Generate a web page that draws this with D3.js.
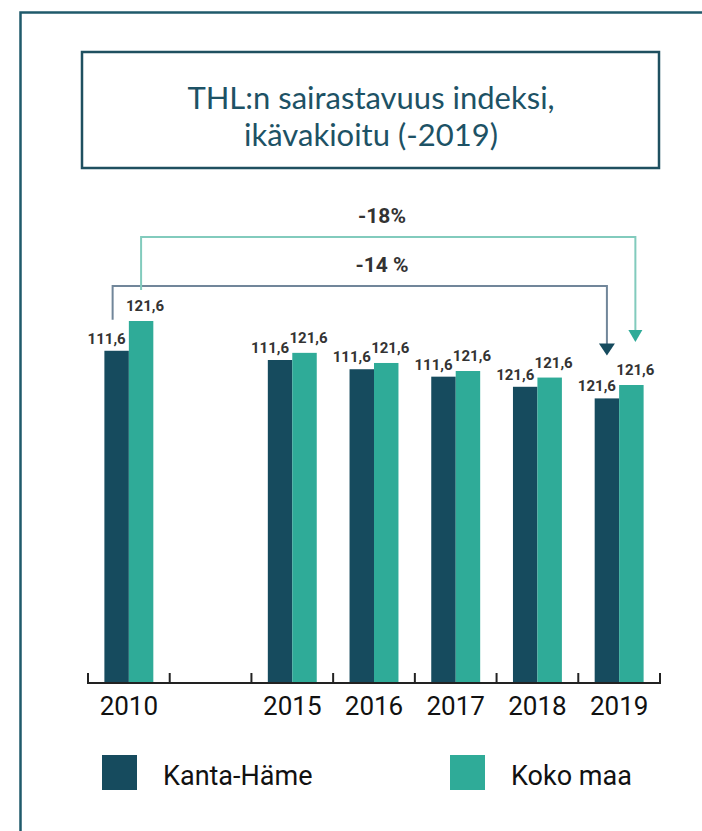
<!DOCTYPE html>
<html>
<head>
<meta charset="utf-8">
<script src="https://cdn.jsdelivr.net/npm/d3@7"></script>
<style>
  body { margin: 0; background: #fff; }
  svg { display: block; }
</style>
</head>
<body>
<svg width="702" height="831"></svg>
<script>
var svg = d3.select("svg"),
  width = +svg.attr("width"),
  height = +svg.attr("height");

// data
var years = ["2010", "", "2015", "2016", "2017", "2018", "2019"];
var series = ["Kanta-Häme", "Koko maa"];
var kantaHame = [111.6, null, 108.5, 105.4, 102.9, 99.5, 95.6];
var kokoMaa = [121.6, null, 110.9, 107.5, 104.8, 102.6, 100.1];
var kantaLabels = ["111,6", "", "111,6", "111,6", "111,6", "121,6", "121,6"];
var kokoLabels = ["121,6", "", "121,6", "121,6", "121,6", "121,6", "121,6"];
var changeLabels = ["-14 %", "-18%"];

var dark = "#164b5e",
  teal = "#2fab98",
  frame = "#1f5a6b";

// outer frame, runs off the right and bottom edge
svg.append("rect")
  .attr("x", 20.5).attr("y", 12.5)
  .attr("width", 900).attr("height", 900)
  .attr("fill", "none")
  .attr("stroke", frame)
  .attr("stroke-width", 2.5);

// title box
svg.append("rect")
  .attr("x", 82).attr("y", 52)
  .attr("width", 577).attr("height", 116)
  .attr("fill", "none")
  .attr("stroke", "#1f5060")
  .attr("stroke-width", 2.5);

var title = svg.append("text")
  .attr("font-family", "Lato, 'Open Sans', sans-serif")
  .attr("font-size", 31)
  .attr("fill", "#1d5265")
  .style("text-anchor", "middle");
title.append("tspan").attr("x", 371).attr("y", 109).text("THL:n sairastavuus indeksi,");
title.append("tspan").attr("x", 371).attr("y", 146).text("ikävakioitu (-2019)");

// scales
var x = d3.scaleBand().domain(years).range([88, 660]);
var x1 = d3.scaleBand().domain(series).range([0, x.bandwidth()]).paddingOuter(0.67);
var y = d3.scaleLinear().domain([0, 121.6]).range([683, 321]);

var rows = years.map(function (d, i) {
  return { year: d, values: [kantaHame[i], kokoMaa[i]], labels: [kantaLabels[i], kokoLabels[i]] };
}).filter(function (d) { return d.values[0] != null; });

var groups = svg.selectAll("g.year")
  .data(rows)
  .enter()
  .append("g")
  .attr("class", "year")
  .attr("transform", function (d) { return "translate(" + x(d.year) + ",0)"; });

groups.selectAll("rect")
  .data(function (d) { return d.values.map(function (v, i) { return { key: series[i], v: v }; }); })
  .enter()
  .append("rect")
  .attr("x", function (d) { return x1(d.key); })
  .attr("y", function (d) { return y(d.v); })
  .attr("width", x1.bandwidth())
  .attr("height", function (d) { return y(0) - y(d.v); })
  .attr("fill", function (d, i) { return i == 0 ? dark : teal; });

// value labels, nudged apart like the original
groups.selectAll("text")
  .data(function (d) { return d.values.map(function (v, i) { return { key: series[i], v: v, label: d.labels[i] }; }); })
  .enter()
  .append("text")
  .attr("font-family", "Roboto, sans-serif")
  .attr("font-weight", 700)
  .attr("font-size", 15)
  .attr("fill", "#333")
  .style("text-anchor", "middle")
  .attr("x", function (d, i) { return x1(d.key) + x1.bandwidth() / 2 + (i == 0 ? -10 : 4); })
  .attr("y", function (d, i) { return y(d.v) - (i == 0 ? 7 : 10); })
  .text(function (d) { return d.label; });

// x axis: labels from d3, line and ticks drawn on band edges
var xAxis = d3.axisBottom(x).tickSize(0).tickPadding(14);
var ax = svg.append("g")
  .attr("transform", "translate(0,683)")
  .call(xAxis);
ax.select(".domain").remove();
ax.selectAll("text")
  .attr("font-family", "Roboto, sans-serif")
  .attr("font-weight", 400)
  .attr("font-size", 26)
  .attr("fill", "#111")
  .attr("dy", "0.71em");

var edges = years.map(function (d) { return x(d); }).concat([x.range()[1]]);
svg.append("line")
  .attr("x1", edges[0]).attr("x2", edges[edges.length - 1])
  .attr("y1", 683).attr("y2", 683)
  .attr("stroke", "#222").attr("stroke-width", 2);
svg.selectAll("line.tick")
  .data(edges)
  .enter()
  .append("line")
  .attr("class", "tick")
  .attr("x1", function (d) { return d; })
  .attr("x2", function (d) { return d; })
  .attr("y1", 673).attr("y2", 684)
  .attr("stroke", "#222").attr("stroke-width", 2);

// change brackets from 2010 to 2019
var first = 0, last = years.length - 1;
var brackets = [
  { i: 0, top: 286, color: "#71869a", head: dark, hw: 8, off: -4, offR: 0 },
  { i: 1, top: 237, color: "#82cbbd", head: teal, hw: 7, off: 0, offR: 4 }
];
var vals = [kantaHame, kokoMaa];
brackets.forEach(function (b) {
  var xs = series[b.i];
  var xl = x(years[first]) + x1(xs) + x1.bandwidth() / 2 + b.off;
  var xr = x(years[last]) + x1(xs) + x1.bandwidth() / 2 + b.offR;
  var yl = y(vals[b.i][first]) - 31;
  var tip = y(vals[b.i][last]) - 43;
  svg.append("path")
    .attr("d", "M" + xl + "," + yl + "V" + b.top + "H" + xr + "V" + (tip - 10))
    .attr("fill", "none")
    .attr("stroke", b.color)
    .attr("stroke-width", 2);
  svg.append("path")
    .attr("d", "M" + (xr - b.hw) + "," + (tip - 12) + "L" + (xr + b.hw) + "," + (tip - 12) + "L" + xr + "," + tip + "Z")
    .attr("fill", b.head);
  svg.append("text")
    .attr("font-family", "Roboto, sans-serif")
    .attr("font-weight", 700)
    .attr("font-size", 21)
    .attr("fill", "#333")
    .style("text-anchor", "middle")
    .attr("x", 382)
    .attr("y", b.top - 14)
    .text(changeLabels[b.i]);
});

// legend
var legend = svg.selectAll("g.legend")
  .data(series)
  .enter()
  .append("g")
  .attr("class", "legend")
  .attr("transform", function (d, i) { return "translate(" + (i == 0 ? 102 : 450) + ",755)"; });
legend.append("rect")
  .attr("width", 35).attr("height", 35)
  .attr("fill", function (d, i) { return i == 0 ? dark : teal; });
legend.append("text")
  .attr("x", 61).attr("y", 30)
  .attr("font-family", "Roboto, sans-serif")
  .attr("font-size", 27)
  .attr("fill", "#111")
  .text(function (d) { return d; });
</script>
</body>
</html>
